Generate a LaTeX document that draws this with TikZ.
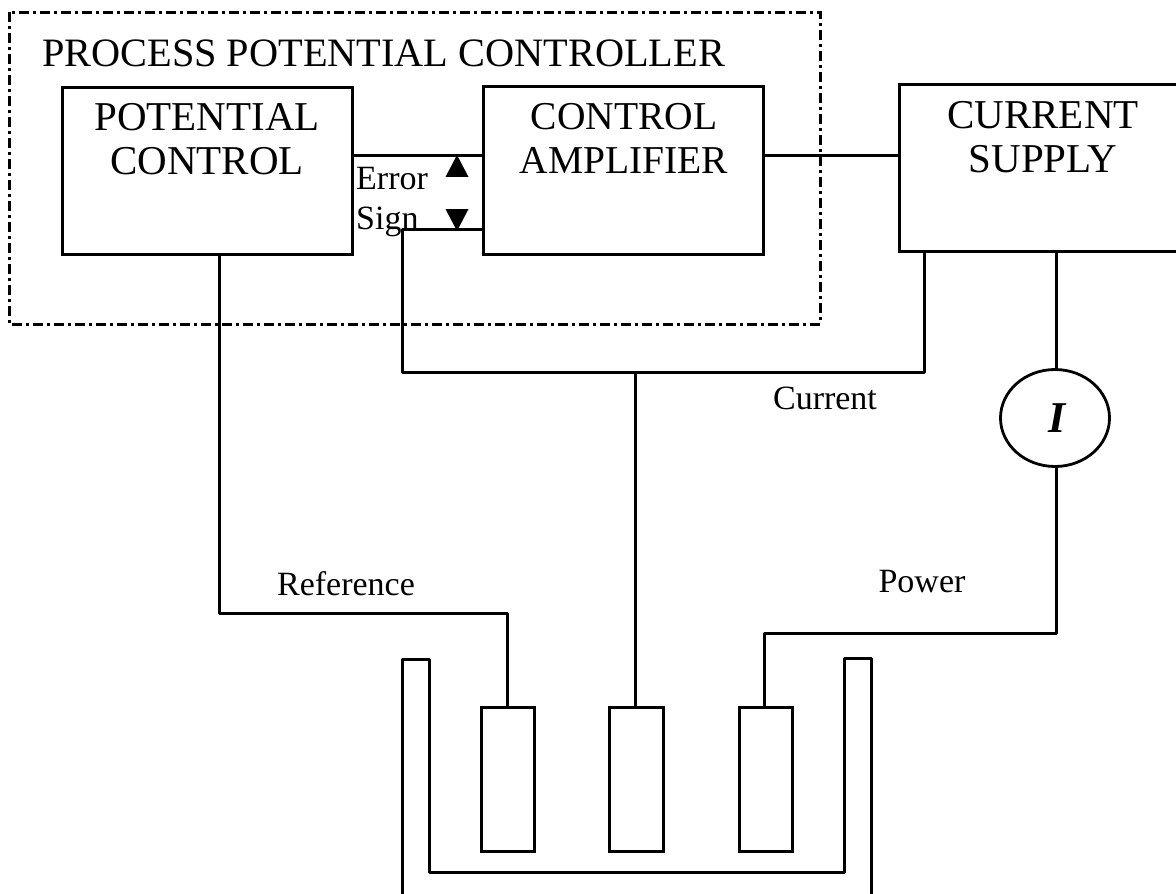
\documentclass[tikz,border=0pt]{standalone}
\usepackage{fontspec}
\setmainfont{Liberation Serif}
\usetikzlibrary{shapes.geometric}
\tikzset{
 px/.style={x=1pt,y=-1pt},
 line/.style={draw=black,line width=3pt,line cap=butt,line join=round},
 boxn/.style={draw=black,line width=2.8pt,inner sep=0pt,anchor=north west},
 lbl/.style={font=\fontsize{41}{44}\selectfont,align=center,inner sep=0pt},
 lblc/.style={font=\fontsize{39.5}{44}\selectfont,align=center,inner sep=0pt},
 small/.style={font=\fontsize{34}{36}\selectfont,inner sep=0pt,anchor=base},
 frame/.style={draw=black,line width=3pt,dash pattern=on 10pt off 4pt on 3pt off 4pt},
 tri/.style={fill=black,draw=none,isosceles triangle,isosceles triangle apex angle=55,isosceles triangle stretches,minimum height=22pt,minimum width=23pt,inner sep=0pt}
}
\begin{document}
\begin{tikzpicture}[px]
\useasboundingbox (0,0) rectangle (1176,894);
\draw[frame] (9,12) rectangle (820,324);
\node[font=\fontsize{40.3}{46}\selectfont,inner sep=0pt,anchor=base west] (title) at (42,66) {PROCESS POTENTIAL CONTROLLER};
\node[boxn,minimum width=290pt,minimum height=167pt] (pc) at (61,86) {};
\node[lbl] (pct) at (207,139) {POTENTIAL\\CONTROL};
\node[boxn,minimum width=280pt,minimum height=168pt] (ca) at (482,85) {};
\node[lblc] (cat) at (624,138) {CONTROL\\AMPLIFIER};
\node[boxn,minimum width=280pt,minimum height=167pt] (cs) at (898,83) {};
\node[lbl] (cst) at (1043,137) {CURRENT\\SUPPLY};
\node[draw=black,line width=2.8pt,ellipse,minimum width=109pt,minimum height=97pt,inner sep=0pt] (im) at (1055,418) {\fontsize{44}{44}\selectfont\bfseries\itshape\hspace*{5pt}I};
\node[small,anchor=base west] (err) at (356,189) {Error};
\node[small,anchor=base west] (sign) at (356,229) {Sign};
\node[small] (cur) at (825,409) {Current};
\node[small] (ref) at (346,595) {Reference};
\node[small] (pow) at (922,592) {Power};
\node[tri,shape border rotate=90] (up) at (457,170) {};
\node[tri,shape border rotate=270] (dn) at (457,216) {};
\node[boxn,minimum width=53pt,minimum height=144pt] (e1) at (480,706) {};
\node[boxn,minimum width=54pt,minimum height=144pt] (e2) at (608,706) {};
\node[boxn,minimum width=53pt,minimum height=144pt] (e3) at (738,706) {};
\coordinate (b1) at (402,229);
\coordinate (b3) at (402,372);
\coordinate (b4) at (924,372);
\coordinate (d1) at (635,372);
\coordinate (p1) at (219,613);
\coordinate (p2) at (507,613);
\coordinate (q1) at (1056,633);
\coordinate (q2) at (764,633);
\draw[line] (pc.east |- 0,155) -- (ca.west |- 0,155);
\draw[line] (ca.west |- b1) -- (b1) -- (b3) -- (b4) -- (b4 |- cs.south);
\draw[line] (ca.east |- 0,155) -- (cs.west |- 0,155);
\draw[line] (d1) -- (d1 |- e2.north);
\draw[line] (q1 |- cs.south) -- (q1 |- im.north);
\draw[line] (p1 |- pc.south) -- (p1) -- (p2) -- (p2 |- e1.north);
\draw[line] (q1 |- im.south) -- (q1) -- (q2) -- (q2 |- e3.north);
\draw[line] (402,894) -- (402,659) -- (429,659) -- (429,872) -- (844,872) -- (844,658) -- (871,658) -- (871,894);
\end{tikzpicture}
\end{document}
